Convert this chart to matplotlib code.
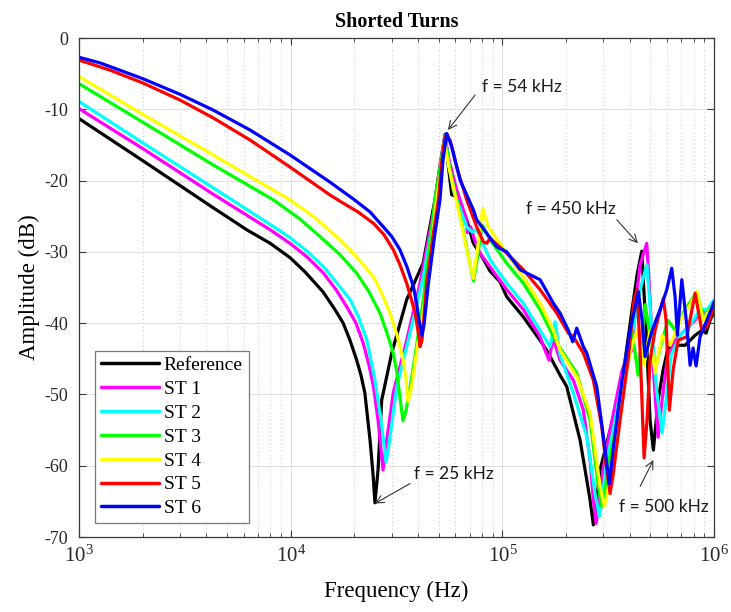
import numpy as np
import matplotlib
matplotlib.use("Agg")
import matplotlib.pyplot as plt
from matplotlib.ticker import LogLocator, FixedLocator, NullFormatter

# -------------------------------------------------------
# Data (frequency in kHz, amplitude in dB)
# -------------------------------------------------------

ref_khz = [1.0, 2.0, 4.3, 6.2, 8.0, 9.92, 11.68, 14.2, 16.19, 17.7, 19.06, 20.5,
           21.48, 22.4, 23.7, 24.5, 25.0, 25.85, 26.9, 30.0, 35.3, 42.2, 48.0,
           51.3, 53.6, 55.3, 57.6, 60.8, 67.8, 72.9, 78.4, 87.4, 97.4, 104.8,
           125.3, 150.5, 161.9, 187.2, 201.2, 232.6, 250.2, 259.3, 268.8,
           276.8, 289.1, 322.3, 359.3, 379.5, 409.5, 432.4, 455.0, 476.8,
           498.0, 516.2, 543.3, 573.7, 605.7, 653.6, 728.7, 812.6, 876.7,
           915.7, 956.3, 1000]
ref_db = [-11.3, -17.2, -23.8, -26.9, -28.8, -30.8, -32.8, -35.6, -38.1, -40.0,
          -42.4, -45.2, -47.3, -49.8, -56.4, -61.3, -65.2, -60.6, -50.8, -44.2,
          -36.7, -31.6, -22.7, -17.1, -13.5, -17.5, -22.0, -22.2, -25.5, -28.8,
          -30.2, -32.7, -34.2, -36.3, -39.1, -42.4, -43.8, -47.3, -48.9, -56.4,
          -62.0, -64.8, -68.3, -65.5, -60.6, -55.0, -49.4, -45.2, -38.1, -33.2,
          -29.9, -41.0, -53.6, -57.8, -50.8, -46.6, -43.5, -43.1, -43.1, -41.7,
          -41.0, -41.4, -39.6, -38.4]

st1_khz = [1.0, 2.0, 4.3, 8.0, 9.92, 11.94, 14.3, 16.37, 18.4, 20.35, 22.0,
           23.44, 24.6, 25.85, 26.7, 27.3, 28.0, 30.5, 35.3, 40.8, 47.2, 50.7,
           53.6, 55.9, 60.8, 67.8, 68.3, 70.85, 73.4, 78.4, 87.4, 104.8, 125.5,
           150.5, 158.9, 166.0, 173.4, 187.2, 216.2, 241.1, 259.3, 268.8,
           276.8, 286.0, 298.7, 322.3, 367.3, 392.1, 409.5, 427.7, 446.7,
           480.4, 498.0, 520.2, 543.3, 567.5, 599.1, 653.6, 728.7, 812.6,
           857.9, 922.7, 1000]
st1_db = [-9.9, -15.5, -21.9, -26.9, -28.8, -30.7, -33.0, -35.3, -37.7, -40.0,
          -42.8, -45.9, -48.9, -53.6, -57.8, -60.6, -57.8, -49.8, -42.4, -34.4,
          -24.6, -17.8, -13.7, -17.1, -21.3, -25.5, -27.3, -26.5, -28.1, -30.2,
          -32.1, -35.3, -38.1, -41.9, -43.8, -45.2, -42.1, -45.2, -48.0, -52.2,
          -59.2, -64.8, -68.1, -65.5, -60.6, -55.0, -46.6, -44.5, -43.8, -36.7,
          -31.8, -28.8, -36.7, -48.0, -56.0, -50.8, -45.2, -42.4, -41.0, -39.6,
          -38.1, -38.8, -37.2]

st2_khz = [1.0, 2.0, 4.3, 8.74, 9.92, 11.94, 14.3, 16.55, 19.1, 21.02, 22.9,
           23.95, 25.0, 26.7, 27.6, 28.2, 29.1, 31.7, 36.6, 42.3, 48.0, 51.3,
           53.6, 55.9, 58.6, 67.8, 71.9, 75.6, 87.4, 104.8, 125.5, 150.5,
           167.8, 177.3, 187.2, 216.2, 250.2, 273.8, 286.9, 295.4, 308.6,
           340.3, 379.5, 409.5, 446.7, 480.9, 503.5, 534.5, 567.5, 592.7,
           625.9, 690.2, 769.6, 857.9, 925.6, 1000]
st2_db = [-8.9, -14.7, -21.0, -26.9, -28.0, -29.9, -32.1, -34.4, -36.7, -39.3,
          -42.4, -45.2, -48.0, -53.6, -57.1, -59.5, -57.1, -48.9, -41.4, -33.5,
          -24.1, -17.8, -13.7, -17.8, -21.3, -26.5, -27.2, -26.9, -31.1, -34.4,
          -37.2, -41.0, -43.3, -39.8, -44.5, -49.8, -55.9, -63.9, -67.1, -64.8,
          -59.9, -53.6, -45.9, -41.7, -35.3, -31.8, -39.6, -49.4, -55.4, -50.8,
          -44.5, -41.7, -40.3, -38.1, -38.1, -36.7]

st3_khz = [1.0, 2.0, 4.3, 8.28, 11.07, 14.3, 17.1, 20.5, 23.44, 26.4, 28.5,
           30.5, 31.6, 32.5, 33.9, 35.1, 38.0, 42.3, 48.0, 51.3, 53.6, 55.9,
           63.05, 68.06, 73.0, 75.9, 80.2, 87.4, 104.8, 125.5, 150.5, 174.0,
           187.2, 224.3, 259.3, 283.8, 294.5, 305.3, 322.3, 355.4, 379.5,
           409.5, 437.1, 471.6, 498.0, 525.8, 567.5, 605.7, 653.6, 728.7,
           827.7, 886.4, 946.0, 1000]
st3_db = [-6.4, -11.8, -17.8, -22.7, -25.4, -28.3, -30.4, -33.0, -35.6, -38.6,
          -41.4, -44.2, -46.6, -49.4, -53.7, -52.2, -46.1, -36.7, -22.7, -17.1,
          -13.9, -17.8, -24.8, -29.7, -34.1, -31.1, -26.2, -28.3, -31.6, -34.4,
          -38.1, -41.9, -43.5, -47.0, -53.6, -62.9, -65.7, -63.4, -58.5, -52.9,
          -45.2, -41.0, -47.3, -37.4, -41.7, -46.6, -42.4, -39.6, -41.0, -38.1,
          -35.6, -39.1, -38.1, -37.4]

st4_khz = [1.0, 2.0, 4.3, 9.92, 13.02, 17.1, 20.79, 24.6, 27.0, 29.45, 31.8,
           34.0, 35.1, 35.8, 37.0, 39.4, 43.9, 48.9, 51.8, 53.6, 55.9, 63.05,
           67.8, 72.9, 76.7, 80.7, 85.8, 104.8, 125.5, 150.5, 174.0, 187.2,
           224.3, 259.3, 289.1, 302.9, 311.9, 329.5, 359.3, 379.5, 409.5,
           432.4, 466.6, 498.0, 525.8, 567.5, 619.0, 690.2, 769.6, 830.4,
           886.4, 956.3, 1000]
st4_db = [-5.4, -10.7, -16.4, -22.7, -25.2, -28.3, -30.9, -33.5, -35.9, -38.6,
          -41.7, -45.2, -48.0, -51.0, -49.4, -43.8, -35.3, -22.7, -17.8, -15.0,
          -18.2, -25.1, -29.7, -33.7, -29.0, -23.9, -26.5, -30.2, -33.5, -37.2,
          -41.0, -43.8, -47.5, -52.6, -62.9, -65.7, -64.1, -59.2, -53.6, -47.3,
          -43.1, -41.0, -45.9, -41.0, -47.0, -41.7, -43.1, -39.6, -37.4, -35.6,
          -39.6, -38.1, -37.4]

st5_khz = [1.0, 1.4, 2.0, 3.0, 4.3, 6.42, 9.92, 15.3, 17.1, 20.79, 24.6, 27.6,
           30.5, 32.8, 35.3, 37.0, 38.7, 40.2, 40.8, 41.7, 43.9, 47.2, 49.8,
           51.8, 53.6, 56.55, 60.8, 67.8, 75.6, 81.3, 84.3, 87.4, 104.8, 125.5,
           150.5, 180.6, 204.8, 216.2, 241.1, 268.8, 294.5, 308.6, 322.3,
           333.1, 359.3, 392.1, 418.5, 432.4, 446.7, 466.6, 481.9, 498.0,
           525.8, 575.4, 592.7, 614.3, 639.6, 675.4, 742.4, 812.6, 873.9,
           922.7, 1000]
st5_db = [-3.1, -4.5, -6.3, -8.7, -11.2, -14.3, -18.1, -22.0, -22.9, -24.4,
          -26.0, -27.6, -29.7, -31.8, -34.4, -36.5, -38.6, -41.7, -43.3, -42.4,
          -34.4, -27.4, -22.7, -17.1, -13.8, -14.3, -18.1, -22.7, -26.5, -28.6,
          -28.8, -28.1, -30.2, -32.5, -35.3, -38.6, -41.4, -41.9, -44.2, -48.0,
          -54.5, -59.9, -63.9, -61.3, -53.6, -45.2, -36.7, -35.3, -43.8, -58.9,
          -53.6, -45.2, -41.0, -36.5, -39.6, -52.2, -46.6, -42.4, -41.9, -35.8,
          -41.0, -40.5, -37.7]

st6_khz = [1.0, 1.26, 2.0, 3.0, 4.3, 6.42, 9.92, 15.3, 19.8, 23.7, 27.4, 30.1,
           32.8, 35.4, 38.0, 39.3, 40.4, 41.6, 42.6, 44.7, 48.0, 50.7, 52.4,
           54.6, 57.6, 63.05, 72.9, 75.6, 94.0, 104.8, 121.1, 150.5, 174.0,
           187.2, 204.8, 214.5, 224.3, 241.1, 250.2, 278.9, 299.6, 319.9,
           333.1, 351.7, 367.3, 400.7, 438.6, 456.5, 471.6, 509.0, 555.2,
           597.2, 630.5, 653.6, 670.3, 703.2, 742.4, 769.6, 795.1, 821.3,
           857.9, 922.7, 1000]
st6_db = [-2.7, -3.5, -5.7, -7.9, -10.1, -12.9, -16.4, -20.2, -22.6, -24.4,
          -26.5, -27.9, -29.7, -32.1, -34.9, -37.2, -39.6, -41.7, -40.3, -34.4,
          -27.4, -22.7, -17.1, -13.4, -15.2, -19.9, -24.1, -25.5, -29.3, -30.0,
          -32.5, -33.9, -37.2, -38.6, -41.0, -42.6, -40.7, -43.3, -44.2, -48.9,
          -55.9, -62.5, -57.8, -52.2, -48.0, -41.0, -35.6, -39.6, -44.7, -41.0,
          -38.1, -35.3, -32.3, -36.3, -41.7, -33.9, -40.3, -45.9, -43.5, -46.0,
          -41.9, -39.6, -37.0]

series_labels = ["Reference", "ST 1", "ST 2", "ST 3", "ST 4", "ST 5", "ST 6"]
series_khz = [ref_khz, st1_khz, st2_khz, st3_khz, st4_khz, st5_khz, st6_khz]
series_db = [ref_db, st1_db, st2_db, st3_db, st4_db, st5_db, st6_db]
series_colors = ["#000000", "#ff00ff", "#00ffff", "#00ff00", "#ffff00",
                 "#ff0000", "#0000ff"]

# annotations: label, point (kHz, dB), arrow tail (kHz, dB), text pos, alignment
notes = [
    ("f = 54 kHz", (55.3, -12.9), (74.3, -8.0), (80.0, -6.9), "left"),
    ("f = 450 kHz", (436.0, -28.8), (347.0, -25.5), (211.0, -24.0), "center"),
    ("f = 25 kHz", (25.0, -65.3), (36.6, -62.5), (38.2, -61.2), "left"),
    ("f = 500 kHz", (516.0, -59.2), (447.0, -62.9), (577.0, -65.8), "center"),
]

# -------------------------------------------------------
# Figure
# -------------------------------------------------------

plt.rcParams["font.family"] = ["Liberation Serif", "DejaVu Serif"]
plt.rcParams["axes.unicode_minus"] = False

fig = plt.figure(figsize=(7.31, 6.12), dpi=100)
ax = fig.add_axes([0.108, 0.1225, 0.869, 0.8154])

for khz, db, lab, col in zip(series_khz, series_db, series_labels, series_colors):
    ax.plot(np.array(khz) * 1e3, db, color=col, lw=2.3, label=lab,
            solid_joinstyle="round", solid_capstyle="round")

ax.set_xscale("log")
ax.set_xlim(1e3, 1e6)
ax.set_ylim(-70, 0)
ax.yaxis.set_major_locator(FixedLocator(np.arange(-70, 1, 10)))
ax.xaxis.set_major_locator(LogLocator(base=10, numticks=10))
ax.xaxis.set_minor_locator(LogLocator(base=10, subs=np.arange(2, 10), numticks=10))
ax.xaxis.set_minor_formatter(NullFormatter())

ax.grid(True, which="major", color="#dedede", lw=0.7, ls="-")
ax.grid(True, which="minor", axis="x", color="#c4c4c4", lw=0.7, ls=(0, (1, 3)))
ax.set_axisbelow(True)

for sp in ax.spines.values():
    sp.set_color("#3a3a3a")
    sp.set_linewidth(0.9)

ax.tick_params(which="both", direction="in", top=True, right=True,
               colors="#3a3a3a", labelcolor="#262626")
ax.tick_params(which="major", length=5)
ax.tick_params(which="minor", length=3)
ax.tick_params(axis="y", labelsize=13, pad=8)
ax.tick_params(axis="x", labelsize=15, pad=6)

ax.set_title("Shorted Turns", fontsize=14.5, fontweight="bold", pad=8)
ax.set_xlabel("Frequency (Hz)", fontsize=16.5, labelpad=10)
ax.set_ylabel("Amplitude (dB)", fontsize=16.5, labelpad=3)

leg = ax.legend(loc="lower left", bbox_to_anchor=(0.025, 0.028),
                borderaxespad=0, fontsize=14, handlelength=3.0,
                handletextpad=0.25, labelspacing=0.32, borderpad=0.3,
                fancybox=False, framealpha=1)
leg.get_frame().set_edgecolor("#7a7a7a")
leg.get_frame().set_linewidth(0.9)
for ln in leg.get_lines():
    ln.set_linewidth(2.5)

for text, pt, tail, tpos, ha in notes:
    ax.annotate("", xy=(pt[0] * 1e3, pt[1]), xytext=(tail[0] * 1e3, tail[1]),
                arrowprops=dict(arrowstyle="->", color="#333333", lw=0.8,
                                shrinkA=0, shrinkB=0, mutation_scale=14))
    ax.text(tpos[0] * 1e3, tpos[1], text, ha=ha, va="center", fontsize=12.5,
            family=["Lato", "DejaVu Sans"], color="#1a1a1a")

fig.savefig("out.png", dpi=100)
